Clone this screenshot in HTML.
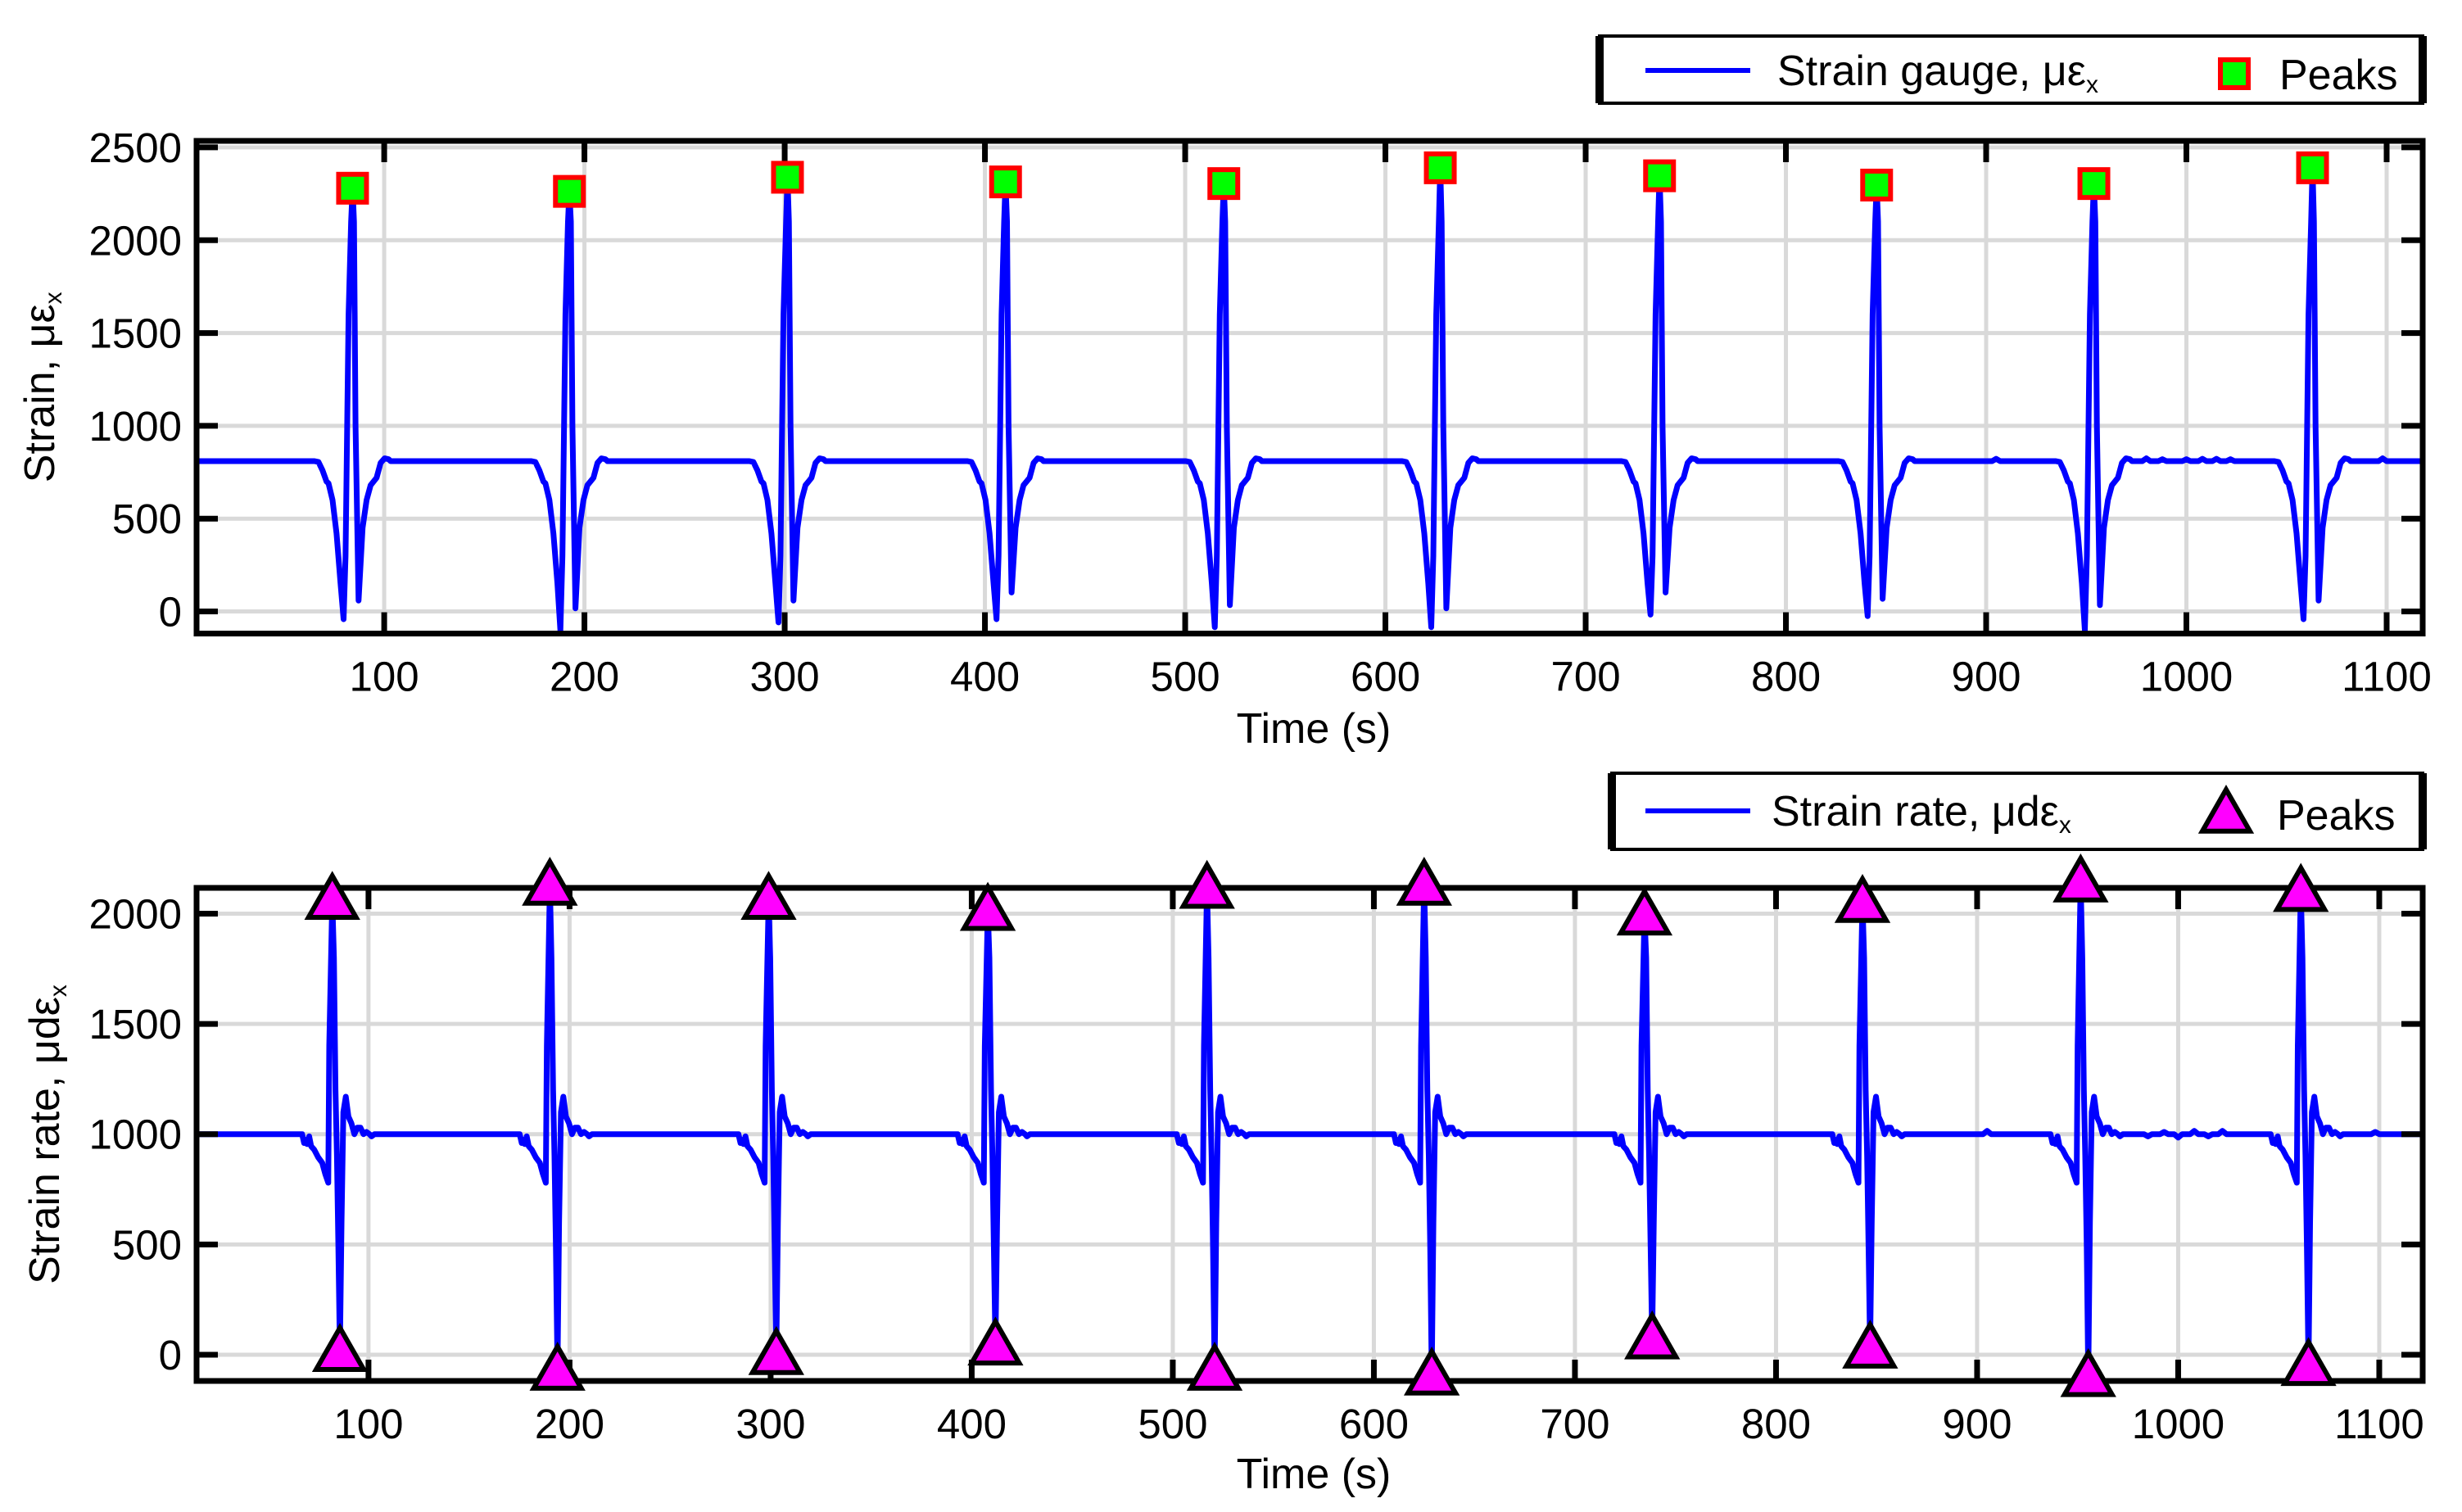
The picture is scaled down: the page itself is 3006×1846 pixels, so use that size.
<!DOCTYPE html>
<html><head><meta charset="utf-8"><style>
html,body{margin:0;padding:0;background:#fff}
svg{display:block;font-family:"Liberation Sans",Arial,sans-serif}
</style></head><body>
<svg id="chart" width="3006" height="1846" viewBox="0 0 3006 1846" xmlns="http://www.w3.org/2000/svg"></svg>
<script>
// ---- data ----
const xTicks = [100,200,300,400,500,600,700,800,900,1000,1100];
const strainYTicks = [0,500,1000,1500,2000,2500];
const rateYTicks = [0,500,1000,1500,2000];
const strainPeakT = [84.2,192.5,301.4,410.3,519.3,627.4,736.9,845.3,953.8,1063];
const strainPeakV = [2280,2263,2339,2314,2305,2390,2347,2297,2305,2390];
const strainMinBefore = [-42,-102,-59,-42,-85,-85,-17,-25,-102,-42];
const strainMinAfter = [59,17,59,102,34,17,102,68,34,59];
const strainShapeOff = [-19,-17,-15,-13,-12,-10,-8,-6,-4.5,-3.5,-2,-0.7,0,0.7,1.5,3,5,7,9,10.5,12,14,16,18,19];
const strainShapeVal = [810,805,760,700,690,600,420,150,'B',300,1600,2100,'P',2100,1000,'A',450,600,680,700,720,800,825,820,810];
const rateHighT = [82,190.2,299,408,517,625,734.6,843,951.5,1061];
const rateHighV = [2064,2128,2064,2014,2114,2128,1993,2050,2143,2100];
const rateLowV = [14,-71,0,43,-71,-93,71,29,-100,-50];
const rateShapeOff = [-16,-15,-14,-13,-12.5,-11.5,-10.5,-9,-7,-5,-3.5,-2,-1.5,0,0.8,1.6,2.3,3,3.8,4.6,5.5,6.7,8,9.5,11,12.5,14,15.5,17,18.5,19.5,21];
const rateShapeVal = [1000,1000,960,975,955,990,945,930,895,870,820,780,1400,'H',1800,1200,900,500,'L',600,1100,1170,1080,1050,1000,1030,1030,1000,1010,1000,990,1000];
const strainBumpT = [905,980,988,1000,1008,1015,1022,1098];
const strainBumpV = [822,825,820,820,822,822,820,825];
const rateBumpT = [905,985,993,1000,1008,1015,1022,1098];
const rateBumpV = [1015,990,1010,985,1015,990,1015,1010];

const NS='http://www.w3.org/2000/svg';
const svg=document.getElementById('chart');
function mk(tag,attrs,parent){const e=document.createElementNS(NS,tag);for(const k in attrs)e.setAttribute(k,attrs[k]);(parent||svg).appendChild(e);return e;}

function buildSeries(peakIdx, shapeOff, shapeVal, subs, bumpT, bumpV, base, xmin, xmax){
  const pts=[[xmin,base]];
  const events=[];
  peakIdx.forEach((t,i)=>{
    shapeOff.forEach((o,j)=>{
      let v=shapeVal[j];
      if(typeof v==='string') v=subs[v][i];
      events.push([t+o,v]);
    });
  });
  bumpT.forEach((t,i)=>{events.push([t-2,base]);events.push([t,bumpV[i]]);events.push([t+2,base]);});
  events.sort((a,b)=>a[0]-b[0]);
  events.forEach(p=>pts.push(p));
  pts.push([xmax,base]);
  return pts;
}

function panel(cfg){
  const g=mk('g',{});
  
  
  const X=v=>cfg.L+(v-cfg.xmin)/(cfg.xmax-cfg.xmin)*(cfg.R-cfg.L);
  const Y=v=>cfg.B-(v-cfg.ymin)/(cfg.ymax-cfg.ymin)*(cfg.B-cfg.T);
  const clip=mk('clipPath',{id:cfg.name+'-clip'},g);
  mk('rect',{x:cfg.L,y:cfg.T,width:cfg.R-cfg.L,height:cfg.B-cfg.T},clip);
  xTicks.forEach(t=>{const l=mk('line',{x1:X(t),x2:X(t),y1:cfg.T,y2:cfg.B,stroke:'#d9d9d9','stroke-width':5},g);
    });
  cfg.yTicks.forEach(t=>{const l=mk('line',{x1:cfg.L,x2:cfg.R,y1:Y(t),y2:Y(t),stroke:'#d9d9d9','stroke-width':5},g);
    });
  const d=cfg.pts.map((p,i)=>(i?'L':'M')+X(p[0]).toFixed(1)+','+Y(p[1]).toFixed(1)).join('');
  const path=mk('path',{d:d,fill:'none',stroke:'#0000ff','stroke-width':7,'stroke-linejoin':'round','clip-path':'url(#'+cfg.name+'-clip)'},g);
  
  
  xTicks.forEach(t=>{
    mk('line',{x1:X(t),x2:X(t),y1:cfg.B,y2:cfg.B-26,stroke:'#000','stroke-width':7},g);
    mk('line',{x1:X(t),x2:X(t),y1:cfg.T,y2:cfg.T+26,stroke:'#000','stroke-width':7},g);
    const tx=mk('text',{x:X(t),y:cfg.B+70,'font-size':51,'text-anchor':'middle'},g);tx.textContent=t;
    
  });
  cfg.yTicks.forEach(t=>{
    mk('line',{x1:cfg.L,x2:cfg.L+26,y1:Y(t),y2:Y(t),stroke:'#000','stroke-width':7},g);
    mk('line',{x1:cfg.R,x2:cfg.R-26,y1:Y(t),y2:Y(t),stroke:'#000','stroke-width':7},g);
    const tx=mk('text',{x:cfg.L-18,y:Y(t)+18,'font-size':51,'text-anchor':'end'},g);tx.textContent=t;
    
  });
  const fr=mk('rect',{x:cfg.L,y:cfg.T,width:cfg.R-cfg.L,height:cfg.B-cfg.T,fill:'none',stroke:'#000','stroke-width':7},g);
  
  cfg.markers(g,X,Y);
  const xt=mk('text',{x:(cfg.L+cfg.R)/2+5,y:cfg.xTitleY,'font-size':52,'text-anchor':'middle'},g);xt.textContent='Time (s)';
  
  const yt=mk('text',{x:0,y:0,'font-size':52,'text-anchor':'middle',transform:'translate('+cfg.yTitleX+','+((cfg.T+cfg.B)/2)+') rotate(-90)'},g);
  yt.innerHTML=cfg.yTitle;
  
  const lg=mk('g',{},g);
  
  const L=cfg.leg;
  mk('rect',{x:L.x,y:L.y,width:L.w,height:L.h,fill:'#fff',stroke:'#000','stroke-width':4},lg);
  mk('line',{x1:L.x,x2:L.x,y1:L.y,y2:L.y+L.h,stroke:'#000','stroke-width':10},lg);
  mk('line',{x1:L.x+L.w,x2:L.x+L.w,y1:L.y,y2:L.y+L.h,stroke:'#000','stroke-width':10},lg);
  mk('line',{x1:2009,x2:2137,y1:L.ly,y2:L.ly,stroke:'#0000ff','stroke-width':6},lg);
  const t1=mk('text',{x:L.tx,y:L.ly+18,'font-size':52},lg);t1.innerHTML=L.label;
  
  cfg.legMarker(lg);
  const t2=mk('text',{x:L.px,y:L.ly+23,'font-size':52},lg);t2.textContent='Peaks';
  
}

function square(g,cx,cy){return mk('rect',{x:cx-17,y:cy-17,width:34,height:34,fill:'#00ff00',stroke:'#ff0000','stroke-width':6},g);}
function tri(g,cx,cy){const s=29;return mk('polygon',{points:(cx)+','+(cy-s)+' '+(cx-s)+','+(cy+s*0.75)+' '+(cx+s)+','+(cy+s*0.75),fill:'#ff00ff',stroke:'#000','stroke-width':6,'stroke-linejoin':'miter'},g);}

const strainPts=buildSeries(strainPeakT,strainShapeOff,strainShapeVal,{B:strainMinBefore,A:strainMinAfter,P:strainPeakV},strainBumpT,strainBumpV,810,6.3,1118);
panel({name:'strain-panel',seriesName:'strain-gauge-line',L:240,R:2958,T:172,B:773.5,xmin:6.3,xmax:1118,ymin:-119,ymax:2535,
  yTicks:strainYTicks,pts:strainPts,xTitleY:907,yTitleX:66,
  yTitle:'Strain, με<tspan font-size="30" dy="9">x</tspan>',
  leg:{x:1953,y:44,w:1005,h:82,ly:86,tx:2170,px:2783,label:'Strain gauge, με<tspan font-size="30" dy="9">x</tspan>'},
  legMarker:lg=>{const m=square(lg,2728,90);},
  markers:(g,X,Y)=>{strainPeakT.forEach((t,i)=>{const m=square(g,X(t),Y(strainPeakV[i]));
    });}
});

const ratePts=buildSeries(rateHighT,rateShapeOff,rateShapeVal,{H:rateHighV,L:rateLowV},rateBumpT,rateBumpV,1000,14.5,1121.6);
panel({name:'rate-panel',seriesName:'strain-rate-line',L:240,R:2958,T:1084,B:1686,xmin:14.5,xmax:1121.6,ymin:-119,ymax:2117,
  yTicks:rateYTicks,pts:ratePts,xTitleY:1817,yTitleX:72,
  yTitle:'Strain rate, μdε<tspan font-size="30" dy="9">x</tspan>',
  leg:{x:1968,y:944,w:990,h:93,ly:990,tx:2163,px:2780,label:'Strain rate, μdε<tspan font-size="30" dy="9">x</tspan>'},
  legMarker:lg=>{const m=tri(lg,2718,993);},
  markers:(g,X,Y)=>{rateHighT.forEach((t,i)=>{
    const m=tri(g,X(t),Y(rateHighV[i]));
    
    const n=tri(g,X(t+3.8),Y(rateLowV[i]));
    });}
});
</script>
</body></html>
